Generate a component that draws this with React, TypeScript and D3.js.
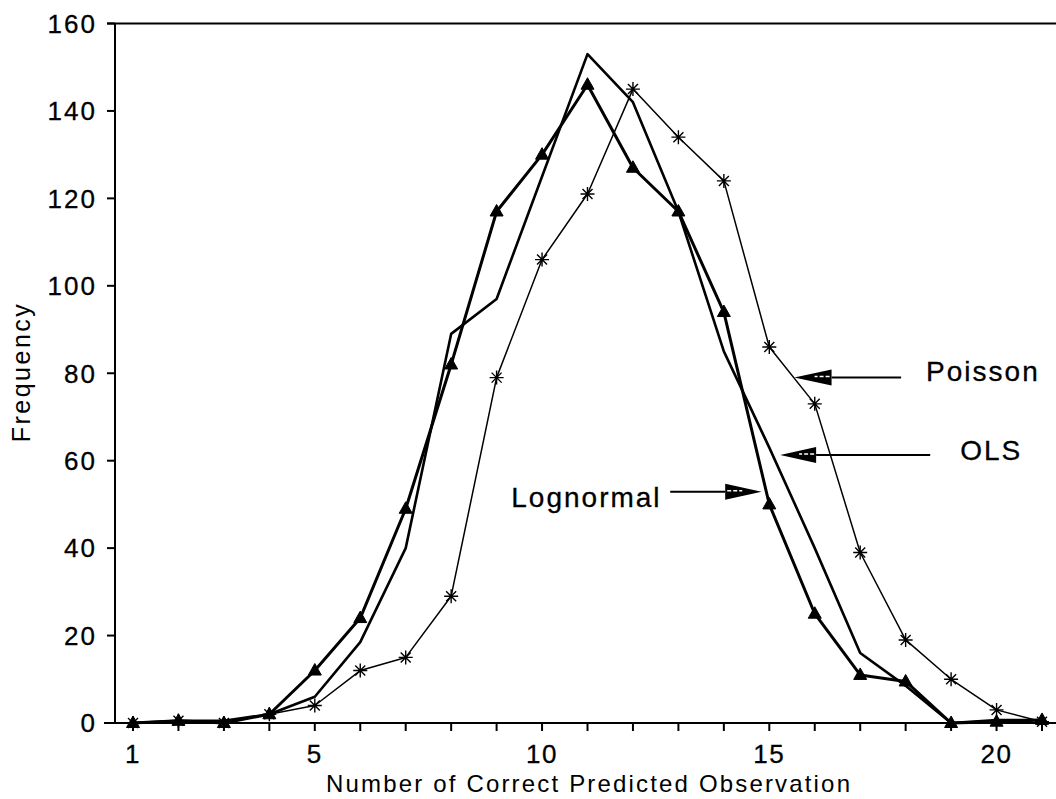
import React from "react";
import * as d3 from "d3";

const xValues = [1, 2, 3, 4, 5, 6, 7, 8, 9, 10, 11, 12, 13, 14, 15, 16, 17, 18, 19, 20, 21];
const poisson = [0, 0.5, 0, 2, 4, 12, 15, 29, 79, 106, 121, 145, 134, 124, 86, 73, 39, 19, 10, 3, 0.3];
const lognormal = [0, 0.5, 0, 2, 12, 24, 49, 82, 117, 130, 146, 127, 117, 94, 50, 25, 11, 9.5, 0, 0.3, 0.7];
const ols = [0, 0.5, 0.5, 2, 6, 18.5, 40, 89, 97, 125, 153, 142, 117, 85, 63, 40, 16, 8.5, 0, 0.7, 0.7];
const yTicks = [0, 20, 40, 60, 80, 100, 120, 140, 160];
const xTickLabels = [1, 5, 10, 15, 20];

// annotations in data coordinates: arrow tip, head base, tail end, label
const annotations = [
  { label: "Poisson", tipX: 15.55, baseX: 16.37, tailX: 17.9, y: 79, labelX: 18.45, anchor: "start", dy: 3 },
  { label: "OLS", tipX: 15.24, baseX: 16.03, tailX: 18.54, y: 61.3, labelX: 19.2, anchor: "start", dy: 5 },
  { label: "Lognormal", tipX: 14.83, baseX: 14.03, tailX: 12.82, y: 52.9, labelX: 12.63, anchor: "end", dy: 15 },
];

const W = 1056;
const H = 799;
const FONT = "'Liberation Sans', Arial, Helvetica, sans-serif";

export default function App() {
  const x = d3.scaleLinear().domain([1, 21]).range([133, 1042]);
  const y = d3.scaleLinear().domain([0, 160]).range([723, 23.5]);
  const axisX = 115;

  const line = d3
    .line<number>()
    .x((_, i) => x(xValues[i]))
    .y((d) => y(d));

  const triangle = (cx: number, cy: number) =>
    `M${cx},${cy - 7} L${cx + 6.5},${cy + 4.5} L${cx - 6.5},${cy + 4.5} Z`;

  const asterisk = (cx: number, cy: number) => {
    const r = 7;
    const rd = 5;
    return `M${cx - r},${cy} L${cx + r},${cy} M${cx},${cy - r} L${cx},${cy + r} M${cx - rd},${cy - rd} L${cx + rd},${cy + rd} M${cx - rd},${cy + rd} L${cx + rd},${cy - rd}`;
  };

  return (
    <svg
      width={W}
      height={H}
      style={{ position: "absolute", left: 0, top: 0, background: "#fff" }}
      fontFamily={FONT}
    >
      <rect width={W} height={H} fill="#fff" />
      {/* frame top line */}
      <line x1={107} x2={W} y1={y(160)} y2={y(160)} stroke="#000" strokeWidth={2} />
      {/* y axis */}
      <line x1={axisX} x2={axisX} y1={y(160)} y2={y(0)} stroke="#000" strokeWidth={2} />
      {/* x axis */}
      <line x1={104} x2={W} y1={y(0)} y2={y(0)} stroke="#000" strokeWidth={2} />
      {/* y ticks */}
      {yTicks.map((t) => (
        <g key={"yt" + t}>
          <line x1={107} x2={axisX} y1={y(t)} y2={y(t)} stroke="#000" strokeWidth={2} />
          <text
            x={97}
            y={y(t)}
            dy="0.36em"
            textAnchor="end"
            fontSize={26}
            letterSpacing={2}
            fill="#000"
            stroke="#000"
            strokeWidth={0.3}
          >
            {t}
          </text>
        </g>
      ))}
      {/* x ticks */}
      {xValues.map((v) => (
        <line key={"xt" + v} x1={x(v)} x2={x(v)} y1={y(0)} y2={y(0) + 8} stroke="#000" strokeWidth={2} />
      ))}
      {xTickLabels.map((v) => (
        <text
          key={"xl" + v}
          x={x(v)}
          y={763}
          textAnchor="middle"
          fontSize={26}
          letterSpacing={1.5}
          fill="#000"
          stroke="#000"
          strokeWidth={0.3}
        >
          {v}
        </text>
      ))}
      {/* axis titles */}
      <text x={588} y={792} textAnchor="middle" fontSize={24} textLength={524} lengthAdjust="spacing" fill="#000">
        Number of Correct Predicted Observation
      </text>
      <text
        transform={`translate(30, 372) rotate(-90)`}
        textAnchor="middle"
        fontSize={25}
        letterSpacing={2.5}
        fill="#000"
      >
        Frequency
      </text>

      {/* series lines */}
      <path d={line(poisson) || ""} fill="none" stroke="#000" strokeWidth={1.5} strokeLinejoin="round" />
      <path d={line(ols) || ""} fill="none" stroke="#000" strokeWidth={2.6} strokeLinejoin="round" />
      <path d={line(lognormal) || ""} fill="none" stroke="#000" strokeWidth={3} strokeLinejoin="round" />

      {/* markers */}
      {poisson.map((v, i) => (
        <path key={"pm" + i} d={asterisk(x(xValues[i]), y(v))} stroke="#000" strokeWidth={1.4} fill="none" />
      ))}
      {lognormal.map((v, i) => (
        <path key={"lm" + i} d={triangle(x(xValues[i]), y(v))} fill="#000" stroke="#000" strokeWidth={1} />
      ))}

      {/* annotations */}
      {annotations.map((a) => {
        const ty = y(a.y);
        const tip = x(a.tipX);
        const base = x(a.baseX);
        const tail = x(a.tailX);
        const dir = base > tip ? 1 : -1;
        const head = `M${tip},${ty} L${base},${ty - 8} L${base},${ty + 8} Z`;
        return (
          <g key={a.label}>
            <line x1={base} x2={tail} y1={ty} y2={ty} stroke="#000" strokeWidth={2} />
            <path d={head} fill="#000" />
            <line
              x1={base - dir * 2}
              x2={base - dir * 17}
              y1={ty - 1}
              y2={ty - 1}
              stroke="#fff"
              strokeWidth={1.5}
              strokeDasharray="4 2"
            />
            <text
              x={x(a.labelX)}
              y={ty + a.dy}
              textAnchor={a.anchor as any}
              fontSize={28}
              letterSpacing={2}
              fill="#000"
              stroke="#000"
              strokeWidth={0.3}
            >
              {a.label}
            </text>
          </g>
        );
      })}
    </svg>
  );
}
